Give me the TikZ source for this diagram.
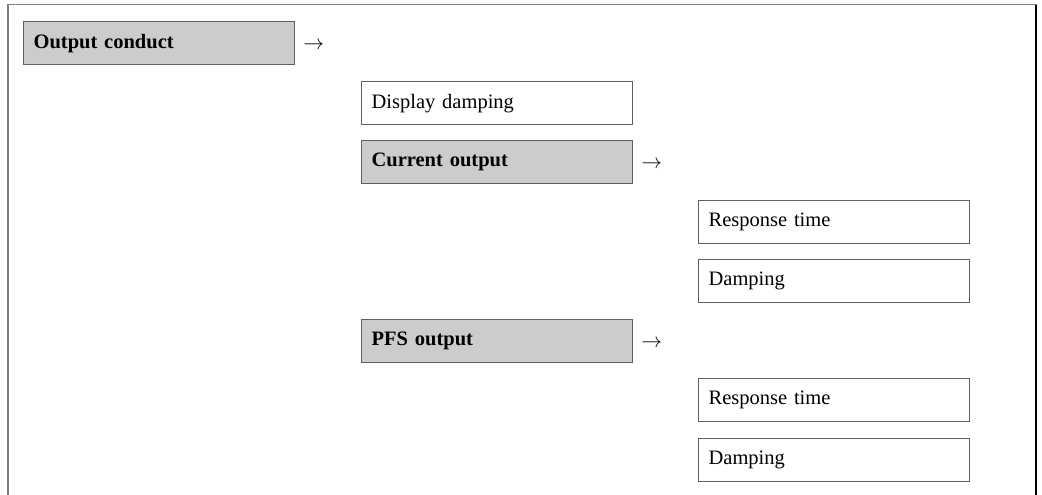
\documentclass[tikz,border=0pt]{standalone}
\usepackage{fontspec}
\setmainfont{Liberation Serif}
\usetikzlibrary{positioning}
\definecolor{menufill}{HTML}{CCCCCC}
\definecolor{menuline}{HTML}{5F5F5F}
\definecolor{frameline}{HTML}{808080}
\tikzset{
    param/.style={draw=menuline, line width=1.2pt, minimum width=271pt, minimum height=43pt,
        text width=251pt, inner xsep=10pt, align=left, anchor=north west,
        font=\fontsize{20.5}{24}\selectfont},
    menu/.style={param, fill=menufill, font=\fontsize{20.5}{24}\selectfont\bfseries},
    goto/.style={right=8pt of #1, inner sep=0pt, yshift=-2.5pt, font=\fontsize{22}{26}\selectfont}
}
\begin{document}
\begin{tikzpicture}[x=1pt, y=-1pt]
        \useasboundingbox (0,0) rectangle (1042,495);
        % frame
        \draw[frameline, line width=1.5pt] (8,495) -- (8,4.5) -- (1037,4.5);
        \draw[black, line width=1.3pt] (1036,5) -- (1036,495);
        % level 1
        \node[menu] (conduct) at (23,21) {Output conduct};
        \node[goto=conduct] (conduct-arr) {$\rightarrow$};
        % level 2
        \node[param] (display) at (361,81) {Display damping};
        \node[menu] (current) at (361,140) {Current output};
        \node[goto=current] (current-arr) {$\rightarrow$};
        \node[menu] (pfs) at (361,319) {PFS output};
        \node[goto=pfs] (pfs-arr) {$\rightarrow$};
        % level 3
        \node[param] (current-resp) at (698,200) {Response time};
        \node[param] (current-damp) at (698,259) {Damping};
        \node[param] (pfs-resp) at (698,378) {Response time};
        \node[param] (pfs-damp) at (698,438) {Damping};
    \end{tikzpicture}
\end{document}
